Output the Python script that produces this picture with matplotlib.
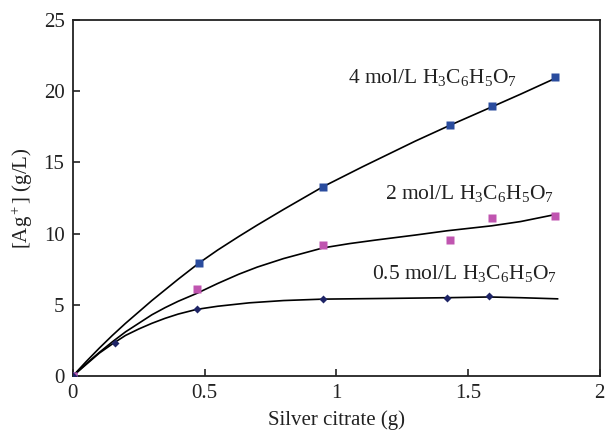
import matplotlib
matplotlib.use("Agg")
import matplotlib.pyplot as plt

plt.rcParams['font.family'] = ['Liberation Serif', 'DejaVu Serif']
plt.rcParams['mathtext.fontset'] = 'custom'
plt.rcParams['mathtext.rm'] = 'Liberation Serif'
plt.rcParams['mathtext.it'] = 'Liberation Serif:italic'

# measured points
x_4 = [0, 0.48, 0.95, 1.43, 1.59, 1.83]
y_4 = [0, 7.95, 13.3, 17.6, 18.95, 21.0]
x_2 = [0, 0.47, 0.95, 1.43, 1.59, 1.83]
y_2 = [0, 6.1, 9.2, 9.55, 11.1, 11.25]
x_05 = [0, 0.16, 0.47, 0.95, 1.42, 1.58]
y_05 = [0, 2.3, 4.7, 5.4, 5.5, 5.6]

# trend curves
cx_4 = [0, 0.05, 0.1, 0.15, 0.2, 0.25, 0.3, 0.35, 0.4, 0.48, 0.55, 0.63, 0.7,
        0.8, 0.95, 1.1, 1.2, 1.3, 1.43, 1.59, 1.7, 1.83]
cy_4 = [0, 1.0, 1.95, 2.85, 3.7, 4.5, 5.3, 6.05, 6.8, 7.95, 8.85, 9.8, 10.6,
        11.7, 13.3, 14.7, 15.6, 16.5, 17.6, 18.9, 19.8, 20.9]
cx_2 = [0, 0.05, 0.1, 0.15, 0.2, 0.25, 0.3, 0.35, 0.4, 0.47, 0.55, 0.63, 0.7,
        0.8, 0.9, 0.95, 1.05, 1.15, 1.3, 1.42, 1.59, 1.7, 1.82]
cy_2 = [0, 0.85, 1.65, 2.4, 3.1, 3.7, 4.3, 4.8, 5.25, 5.8, 6.5, 7.15, 7.65,
        8.25, 8.75, 9.0, 9.3, 9.55, 9.9, 10.2, 10.55, 10.85, 11.3]
cx_05 = [0, 0.05, 0.1, 0.15, 0.2, 0.25, 0.3, 0.35, 0.4, 0.47, 0.55, 0.67, 0.8,
         0.95, 1.2, 1.42, 1.58, 1.7, 1.84]
cy_05 = [0, 0.8, 1.6, 2.25, 2.85, 3.3, 3.7, 4.05, 4.35, 4.68, 4.9, 5.14, 5.3,
         5.4, 5.45, 5.5, 5.55, 5.5, 5.42]

fig = plt.figure(figsize=(6.07, 4.37), dpi=100)
ax = fig.add_axes([0.120, 0.1396, 0.868, 0.8144])

for cx, cy in [(cx_4, cy_4), (cx_2, cy_2), (cx_05, cy_05)]:
    ax.plot(cx, cy, color='black', lw=1.2, solid_joinstyle='round')

ax.plot(x_4, y_4, 's', color='#2A4C9E', ms=6, mec='none', zorder=3)
ax.plot(x_2, y_2, 's', color='#C055B0', ms=5.5, mec='none', zorder=3)
ax.plot(x_05, y_05, 'D', color='#1E2466', ms=4, mec='none', zorder=3)

fs = 15.5
ax.text(1.045, 21.0, '4 mol/L H$_3$C$_6$H$_5$O$_7$', fontsize=fs, va='center', color='#222222')
ax.text(1.186, 12.85, '2 mol/L H$_3$C$_6$H$_5$O$_7$', fontsize=fs, va='center', color='#222222')
ax.text(1.137, 7.2, '0.5 mol/L H$_3$C$_6$H$_5$O$_7$', fontsize=fs, va='center', color='#222222')

ax.set_xlim(0, 2)
ax.set_ylim(0, 25)
ax.set_xticks([0, 0.5, 1, 1.5, 2])
ax.set_xticklabels(['0', '0.5', '1', '1.5', '2'])
ax.set_yticks([0, 5, 10, 15, 20, 25])
ax.tick_params(direction='in', length=5, width=1.2, labelsize=15, colors='#222222', pad=6)
for s in ax.spines.values():
    s.set_linewidth(1.3)
    s.set_color('#222222')

ax.set_xlabel('Silver citrate (g)', fontsize=15, color='#222222', labelpad=5)
ax.set_ylabel('[Ag$^+$] (g/L)', fontsize=15, color='#222222', labelpad=6)

fig.savefig('out.png', dpi=100)
